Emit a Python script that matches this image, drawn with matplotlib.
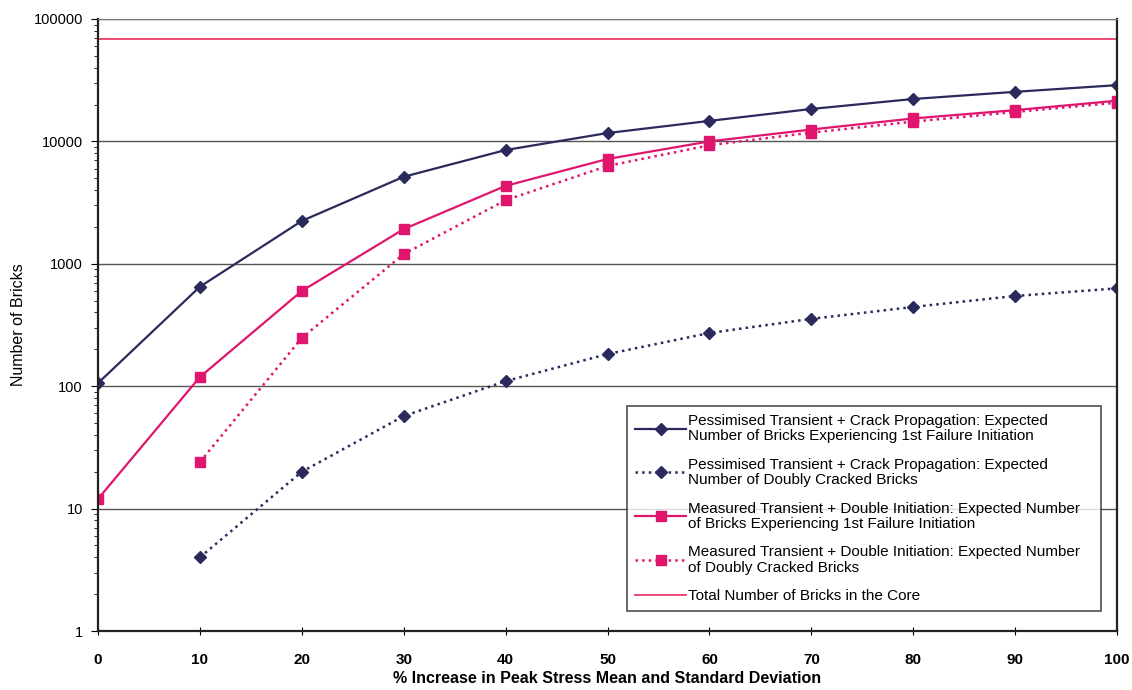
import numpy as np
import matplotlib
matplotlib.use("Agg")
import matplotlib.pyplot as plt
from matplotlib.ticker import LogLocator, FixedLocator, NullFormatter

plt.rcParams['font.family'] = ['Liberation Sans', 'DejaVu Sans']
NARROW = ['Liberation Sans Narrow', 'Liberation Sans', 'DejaVu Sans']

# % increase in peak stress mean and standard deviation
pct = [0, 10, 20, 30, 40, 50, 60, 70, 80, 90, 100]
pct_dbl = [10, 20, 30, 40, 50, 60, 70, 80, 90, 100]

pess_first = [106, 650, 2240, 5140, 8500, 11700, 14700, 18400, 22200, 25400, 28800]
pess_double = [4.0, 20, 57, 110, 183, 272, 355, 444, 546, 630]
meas_first = [12, 119, 600, 1920, 4330, 7180, 10000, 12500, 15400, 18000, 21500]
meas_double = [24, 248, 1200, 3310, 6300, 9300, 11800, 14500, 17400, 20700]
total_bricks = 68000

labels = [
    "Pessimised Transient + Crack Propagation: Expected\nNumber of Bricks Experiencing 1st Failure Initiation",
    "Pessimised Transient + Crack Propagation: Expected\nNumber of Doubly Cracked Bricks",
    "Measured Transient + Double Initiation: Expected Number\nof Bricks Experiencing 1st Failure Initiation",
    "Measured Transient + Double Initiation: Expected Number\nof Doubly Cracked Bricks",
    "Total Number of Bricks in the Core",
]

NAVY = "#2a2a5c"
PINK = "#e0156e"
RED = "#ee3a6a"

fig = plt.figure(figsize=(11.32, 6.9), dpi=100)
ax = fig.add_axes([0.0866, 0.0855, 0.9002, 0.887])

ax.plot(pct, pess_first, "-", color=NAVY, lw=1.6, marker="D", ms=6,
        label=labels[0])
ax.plot(pct_dbl, pess_double, ":", color=NAVY, lw=1.8, marker="D", ms=6,
        label=labels[1])
ax.plot(pct, meas_first, "-", color=PINK, lw=1.6, marker="s", ms=7,
        label=labels[2])
ax.plot(pct_dbl, meas_double, ":", color=PINK, lw=1.8, marker="s", ms=7,
        label=labels[3])
ax.axhline(total_bricks, color=RED, lw=1.3, label=labels[4])

ax.set_yscale("log")
ax.set_ylim(1, 100000)
ax.set_xlim(0, 100)
ax.set_xticks(pct)
ax.yaxis.set_major_locator(FixedLocator([1, 10, 100, 1000, 10000, 100000]))
ax.set_yticklabels(["1", "10", "100", "1000", "10000", "100000"])
ax.yaxis.set_minor_locator(LogLocator(base=10, subs=np.arange(2, 10)))
ax.yaxis.set_minor_formatter(NullFormatter())
ax.grid(True, axis="y", which="major", color="#555555", lw=1.0)

ax.tick_params(axis="y", which="major", direction="out", length=5,
               labelsize=10.5, pad=6)
ax.tick_params(axis="y", which="minor", direction="out", length=3)
ax.tick_params(axis="x", direction="inout", length=6, labelsize=11,
               pad=13)
for lab in ax.get_xticklabels():
    lab.set_family(NARROW)
    lab.set_fontweight("bold")
for sp in ["left", "bottom", "right"]:
    ax.spines[sp].set_color("#222222")
    ax.spines[sp].set_linewidth(1.6)
ax.spines["top"].set_color("#777777")

ax.set_ylabel("Number of Bricks", fontsize=11.5, labelpad=5)
ax.set_xlabel("% Increase in Peak Stress Mean and Standard Deviation",
              fontsize=11.5, fontweight="bold", labelpad=3, family=NARROW)

leg = ax.legend(loc="lower left", bbox_to_anchor=(0.519, 0.033, 0.465, 0.357),
                mode="expand", fontsize=11, frameon=True, fancybox=False,
                edgecolor="#222222", handlelength=3.4, handletextpad=0.1,
                labelspacing=0.95, borderpad=0.5, borderaxespad=0.0)
leg.get_frame().set_linewidth(1.2)
for t in leg.get_texts():
    t.set_linespacing(1.12)

fig.savefig("out.png", dpi=100)
